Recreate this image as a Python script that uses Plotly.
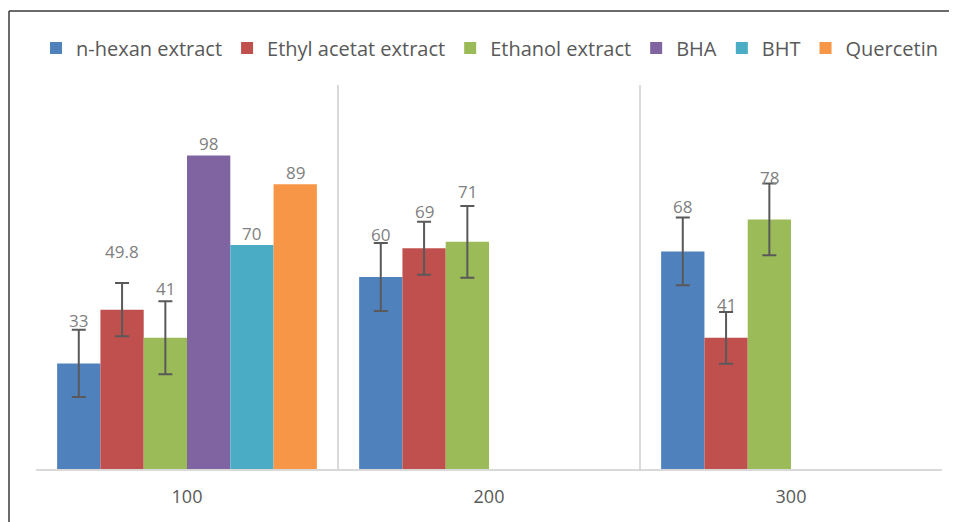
import plotly.graph_objects as go

categories = ["100", "200", "300"]
series_names = ["n-hexan extract", "Ethyl acetat extract", "Ethanol extract", "BHA", "BHT", "Quercetin"]
nhexan = [33, 60, 68]
ethyl = [49.8, 69, 41]
ethanol = [41, 71, 78]
bha = [98, None, None]
bht = [70, None, None]
quercetin = [89, None, None]
nhexan_err = [10.5, 10.6, 10.6]
ethyl_err = [8.3, 8.3, 8.1]
ethanol_err = [11.4, 11.2, 11.2]
label_texts = [
    ["33", "60", "68"],
    ["49.8", "69", "41"],
    ["41", "71", "78"],
    ["98", None, None],
    ["70", None, None],
    ["89", None, None],
]

colors = ["#4F81BD", "#C0504D", "#9BBB59", "#8064A2", "#4BACC6", "#F79646"]
values = [nhexan, ethyl, ethanol, bha, bht, quercetin]
errors = [nhexan_err, ethyl_err, ethanol_err, None, None, None]
# extra pixel offsets for the hand-placed labels above error bars
label_shift = [[9, 9, 11], [32, 10, 7], [13, 14, 6], [12, 0, 0], [12, 0, 0], [12, 0, 0]]

BARGAP = 0.14
fig = go.Figure()
for i, (name, vals) in enumerate(zip(series_names, values)):
    err = errors[i]
    fig.add_trace(go.Bar(
        name=name, x=categories, y=vals,
        marker=dict(color=colors[i], line=dict(width=0)),
        error_y=dict(type="data", array=err, visible=err is not None,
                     color="#595959", thickness=2, width=7),
    ))

n = len(series_names)
slot = (1 - BARGAP) / n
annotations = []
for i in range(n):
    for j, cat in enumerate(categories):
        txt = label_texts[i][j]
        v = values[i][j]
        if txt is None or v is None:
            continue
        e = errors[i][j] if errors[i] is not None else 0
        annotations.append(dict(
            x=j + (i - (n - 1) / 2) * slot, y=v + e, xref="x", yref="y",
            text=txt, showarrow=False, yanchor="middle", yshift=label_shift[i][j],
            font=dict(family="Open Sans", size=17, color="#808080"),
        ))

# page has an 8px body margin; work in page pixels and convert
OFF = 8
FW, FH = 957 - OFF, 522 - OFF
PL, PR, PT, PB = 36, 942, 85, 469  # plot area in page pixels
L, T = PL - OFF, PT - OFF
R, B = FW - (PR - OFF), FH - (PB - OFF)
W, H = PR - PL, PB - PT
def px(x):
    return (x - PL) / W
def py(y):
    return (PB - y) / H
shapes = [
    dict(type="line", xref="paper", yref="paper", x0=px(9), x1=px(9), y0=py(11), y1=py(540),
         line=dict(color="#3a3a3a", width=1.5)),
    dict(type="line", xref="paper", yref="paper", x0=px(9), x1=px(980), y0=py(11), y1=py(11),
         line=dict(color="#3a3a3a", width=1.5)),
]

fig.update_layout(
    width=FW, height=FH,
    margin=dict(l=L, r=R, t=T, b=B, autoexpand=False),
    barmode="group", bargap=BARGAP, bargroupgap=0,
    plot_bgcolor="white", paper_bgcolor="white",
    font=dict(family="Open Sans", color="#595959"),
    showlegend=True,
    legend=dict(orientation="h", x=px(36), xanchor="left", y=py(48), yanchor="middle",
                font=dict(size=20, color="#595959"), traceorder="normal", itemwidth=30),
    annotations=annotations,
    shapes=shapes,
    xaxis=dict(type="category", tickson="boundaries", showgrid=True, gridcolor="#d9d9d9", gridwidth=2,
               showline=True, linecolor="#d9d9d9", linewidth=2, ticks="",
               tickfont=dict(size=18, color="#595959"), ticklabelstandoff=10),
    yaxis=dict(range=[0, 120], visible=False, showgrid=False),
)
fig.write_html("out.html")
